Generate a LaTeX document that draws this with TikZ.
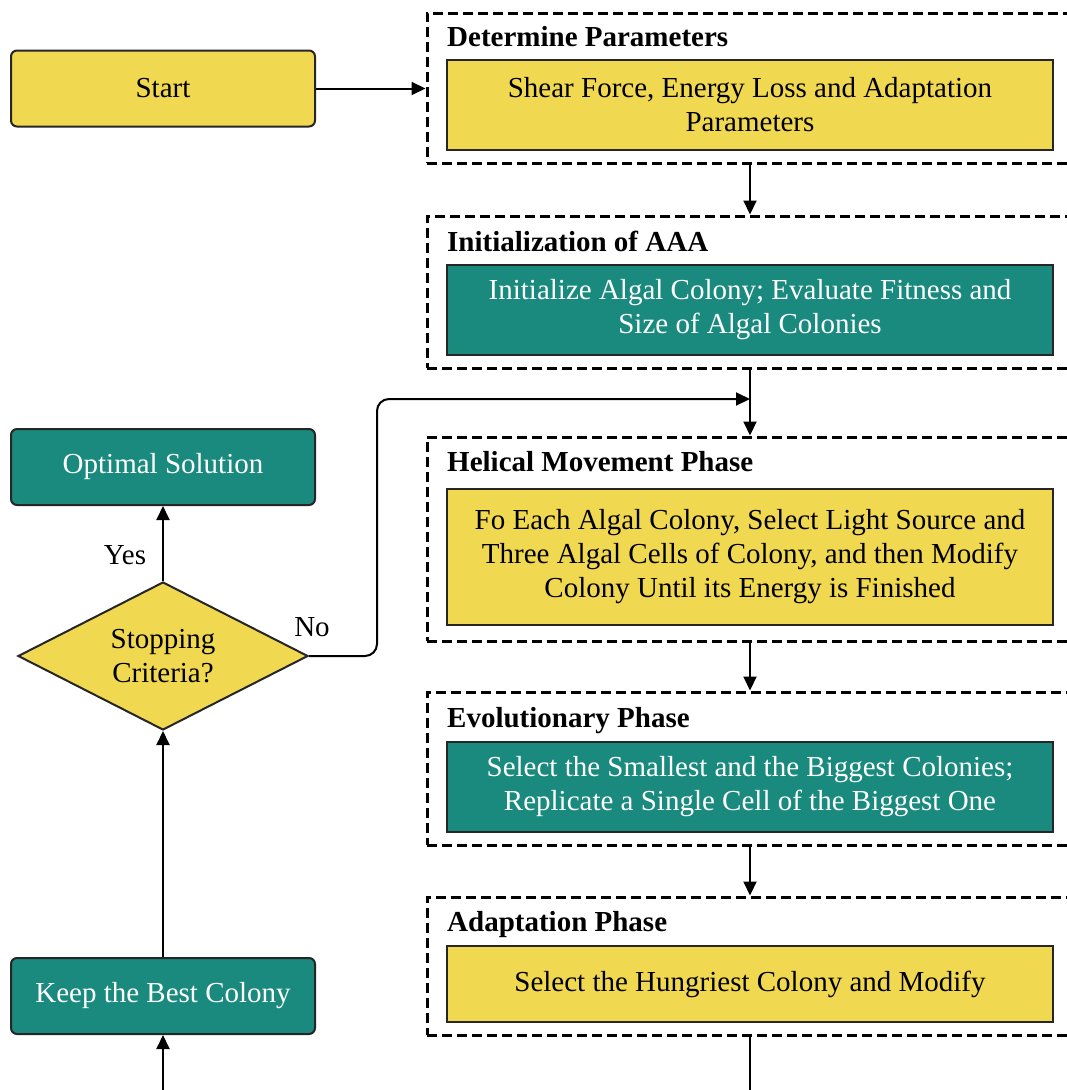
\documentclass[tikz,border=0pt]{standalone}
\usepackage{fontspec}
\setmainfont{LiberationSerif}[Extension=.ttf, UprightFont=*-Regular, BoldFont=*-Bold, ItalicFont=*-Italic]
\usetikzlibrary{arrows.meta,shapes.geometric}
\definecolor{boxyellow}{RGB}{240,217,80}
\definecolor{boxteal}{RGB}{26,138,126}
\begin{document}
\begin{tikzpicture}[x=1pt,y=-1pt,
  every node/.style={font=\fontsize{29}{34}\selectfont},
  term/.style={draw=black!85, line width=2pt, rounded corners=6pt, minimum width=304pt, minimum height=76pt, inner sep=0pt, align=center},
  yterm/.style={term, fill=boxyellow},
  tterm/.style={term, fill=boxteal, text=white},
  task/.style={draw=black!85, line width=2pt, minimum width=606pt, inner sep=0pt, align=center},
  ytask/.style={task, fill=boxyellow},
  ttask/.style={task, fill=boxteal, text=white},
  phase/.style={draw, dash pattern=on 10pt off 5pt, line width=3pt, minimum width=653pt, inner sep=0pt},
  phasetitle/.style={anchor=base west, inner sep=0pt, font=\fontsize{29}{34}\selectfont\bfseries},
  lbl/.style={inner sep=0pt},
  arr/.style={line width=2pt, -{Triangle[length=14pt,width=13pt]}},
  wire/.style={line width=2pt}
]
\useasboundingbox[fill=white] (0,0) rectangle (1067,1090);

% phase frames (open towards the right edge)
\node[phase, minimum height=150pt] (g1) at (753.5,88) {};
\node[phase, minimum height=152pt] (g2) at (753.5,292) {};
\node[phase, minimum height=204pt] (g3) at (753.5,539) {};
\node[phase, minimum height=153pt] (g4) at (753.5,768.5) {};
\node[phase, minimum height=138pt] (g5) at (753.5,966) {};

% phase titles
\node[phasetitle] (t1) at (447,46) {Determine Parameters};
\node[phasetitle] (t2) at (447,251) {Initialization of AAA};
\node[phasetitle] (t3) at (447,471) {Helical Movement Phase};
\node[phasetitle] (t4) at (447,727) {Evolutionary Phase};
\node[phasetitle] (t5) at (447,931) {Adaptation Phase};

% phase contents
\node[ytask, minimum height=90pt] (b1) at (750,105) {Shear Force, Energy Loss and Adaptation\\Parameters};
\node[ttask, minimum height=90pt] (b2) at (750,310) {Initialize Algal Colony; Evaluate Fitness and\\Size of Algal Colonies};
\node[ytask, minimum height=136pt] (b3) at (750,557) {Fo Each Algal Colony, Select Light Source and\\Three Algal Cells of Colony, and then Modify\\Colony Until its Energy is Finished};
\node[ttask, minimum height=90pt] (b4) at (750,787) {Select the Smallest and the Biggest Colonies;\\Replicate a Single Cell of the Biggest One};
\node[ytask, minimum height=76pt] (b5) at (750,984) {Select the Hungriest Colony and Modify};

% left column
\node[yterm] (start) at (163,88.5) {Start};
\node[tterm] (opt) at (163,467) {Optimal Solution};
\node[draw=black!85, line width=2pt, fill=boxyellow, diamond, aspect=1.96,
      minimum width=290pt, minimum height=148pt, inner sep=0pt, align=center]
      (dec) at (163,656) {Stopping\\Criteria?};
\node[tterm] (keep) at (163,996) {Keep the Best Colony};

\node[lbl] (yes) at (125,555) {Yes};
\node[lbl] (no) at (312,627) {No};

% connectors
\coordinate (join) at (750,399);
\coordinate (bend) at (377,399);
\coordinate (outR) at (750,1090);
\coordinate (outL) at (163,1090);

\draw[arr] (start.east) -- (start.east -| g1.west);
\draw[arr] (g1.south -| b1.center) -- (g2.north -| b1.center);
\draw[wire] (g2.south -| b2.center) -- (join);
\draw[arr] (join) -- (g3.north -| b2.center);
\draw[arr, rounded corners=12pt] (dec.east) -| (bend) -- (join);
\draw[arr] (g3.south -| b3.center) -- (g4.north -| b3.center);
\draw[arr] (g4.south -| b4.center) -- (g5.north -| b4.center);
\draw[wire] (g5.south -| b5.center) -- (outR);
\draw[arr] (outL) -- (keep.south);
\draw[arr] (keep.north) -- (dec.south);
\draw[arr] (dec.north) -- (opt.south);
\end{tikzpicture}
\end{document}
